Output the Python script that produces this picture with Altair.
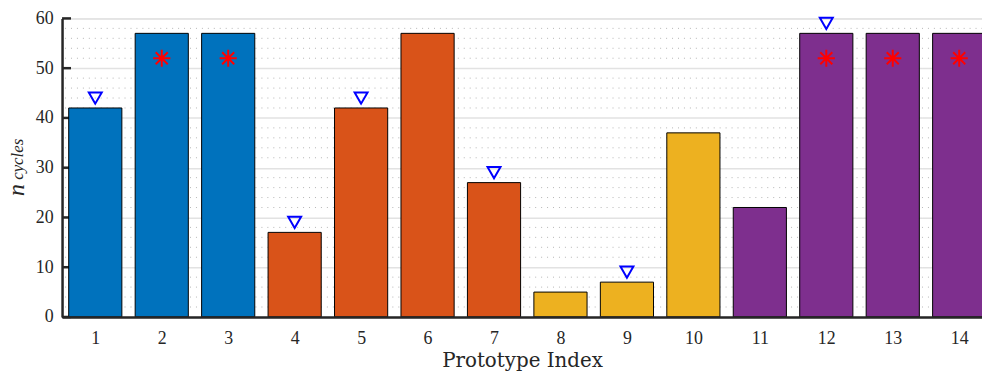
import altair as alt
import pandas as pd

# ---- data ----
prototypes = list(range(1, 15))
n_cycles = [42, 57, 57, 17, 42, 57, 27, 5, 7, 37, 22, 57, 57, 57]
groups = ["A", "A", "A", "B", "B", "B", "B", "C", "C", "C", "D", "D", "D", "D"]
group_colors = ["#0072BD", "#D95319", "#EDB120", "#7E2F8E"]

tri_idx = [1, 4, 5, 7, 9, 12]
tri_val = [44, 19, 44, 29, 9, 59]

star_idx = [2, 3, 12, 13, 14]
star_val = [52, 52, 52, 52, 52]

y_major = [0, 10, 20, 30, 40, 50, 60]
y_minor = [v for v in range(2, 60, 2) if v % 10 != 0]

FONT = "Liberation Serif"
TFONT = "DejaVu Serif"
W, H = 927.5, 301
X_DOM = [0.5, 14.343]

bars_df = pd.DataFrame({"idx": prototypes, "val": n_cycles, "grp": groups})
tri_df = pd.DataFrame({"idx": tri_idx, "val": tri_val})
star_df = pd.DataFrame({"idx": star_idx, "val": star_val})
minor_df = pd.DataFrame({"v": y_minor})
major_df = pd.DataFrame({"v": y_major})

yscale = alt.Scale(domain=[0, 60], nice=False, zero=False)
xscale = alt.Scale(domain=X_DOM, nice=False, zero=False)

minor = alt.Chart(minor_df).mark_rule(
    color="#b5b5b5", strokeWidth=1, strokeDash=[1, 5], clip=True
).encode(
    y=alt.Y("v:Q", scale=yscale),
    x=alt.value(3), x2=alt.value(W),
)

ticks = alt.Chart(major_df).mark_rule(color="#262626", strokeWidth=2.5).encode(
    y=alt.Y("v:Q", scale=yscale),
    x=alt.value(0), x2=alt.value(9),
)

bars = alt.Chart(bars_df).transform_calculate(
    x0="datum.idx - 0.4", x1="datum.idx + 0.4", base="0"
).mark_bar(stroke="#000000", strokeWidth=1, clip=True).encode(
    x=alt.X("x0:Q", scale=xscale,
            axis=alt.Axis(values=prototypes, format="d", title="Prototype Index",
                          grid=False, ticks=False, tickSize=0, labelPadding=13,
                          labelFont=FONT, labelFontSize=18, labelColor="#262626",
                          titleFont=TFONT, titleFontSize=20, titleFontWeight="normal",
                          titleColor="#262626", titlePadding=3,
                          domainColor="#262626", domainWidth=2.5, zindex=1)),
    x2="x1:Q",
    y=alt.Y("val:Q", scale=yscale,
            axis=alt.Axis(values=y_major, title=None, grid=True, gridColor="#e2e2e2",
                          gridWidth=1.5, ticks=False, tickSize=0, labelPadding=9,
                          labelFont=FONT, labelFontSize=18, labelColor="#262626",
                          domainColor="#262626", domainWidth=2.5)),
    y2="base:Q",
    color=alt.Color("grp:N", scale=alt.Scale(domain=["A", "B", "C", "D"], range=group_colors),
                    legend=None),
)

tris = alt.Chart(tri_df).mark_point(
    shape="triangle-down", filled=False, color="#0000FF", strokeWidth=2, size=170, opacity=1,
).encode(
    x=alt.X("idx:Q", scale=xscale),
    y=alt.Y("val:Q", scale=yscale),
)

stars = alt.Chart(star_df).mark_point(
    shape="M0,-1L0,1M-1,0L1,0M-0.7,-0.7L0.7,0.7M-0.7,0.7L0.7,-0.7",
    filled=False, color="#FF0000", strokeWidth=2, size=300, opacity=1,
).encode(
    x=alt.X("idx:Q", scale=xscale),
    y=alt.Y("val:Q", scale=yscale),
)

ylab_n = alt.Chart(pd.DataFrame({"t": ["n"]})).mark_text(
    font=FONT, fontStyle="italic", fontSize=24, angle=270, align="center",
    baseline="middle", color="#262626"
).encode(text="t:N", x=alt.value(-45), y=alt.value(173))

ylab_sub = alt.Chart(pd.DataFrame({"t": ["cycles"]})).mark_text(
    font=FONT, fontStyle="italic", fontSize=17, angle=270, align="center",
    baseline="middle", color="#262626"
).encode(text="t:N", x=alt.value(-44), y=alt.value(142))

chart = alt.layer(minor, ticks, bars, tris, stars, ylab_n, ylab_sub).properties(
    width=W, height=H,
    padding={"left": 54.5, "top": 9, "right": 0, "bottom": 56},
    autosize=alt.AutoSizeParams(type="none"),
).configure_view(stroke=None).configure(background="white")

chart.save("out.html", embed_options={"renderer": "svg", "actions": False})
